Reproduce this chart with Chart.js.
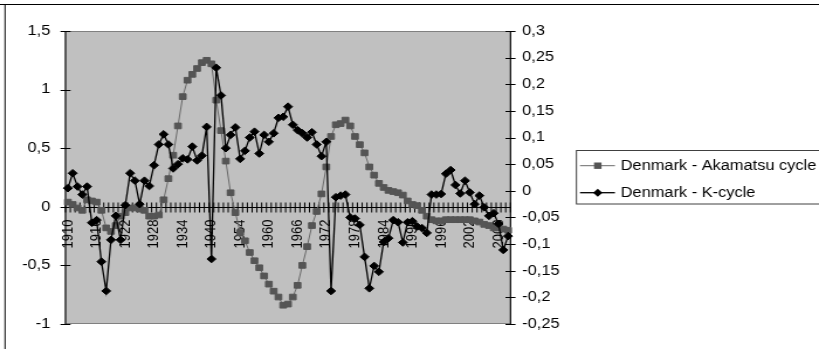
<!DOCTYPE html>
<html>
<head>
<meta charset="utf-8">
<script src="https://cdn.jsdelivr.net/npm/chart.js@4.4.0/dist/chart.umd.min.js"></script>
<style>
html, body { margin: 0; padding: 0; background: #fff; overflow: hidden; }
#chart { display: block; }
</style>
</head>
<body>
<canvas id="chart" width="700" height="349" style="width:819px;height:349px"></canvas>
<script>
// years on the category axis (no data 1941-1948)
const years = [
    1910, 1911, 1912, 1913, 1914, 1915, 1916, 1917, 1918, 1919,
    1920, 1921, 1922, 1923, 1924, 1925, 1926, 1927, 1928, 1929,
    1930, 1931, 1932, 1933, 1934, 1935, 1936, 1937, 1938, 1939,
    1940, 1949, 1950, 1951, 1952, 1953, 1954, 1955, 1956, 1957,
    1958, 1959, 1960, 1961, 1962, 1963, 1964, 1965, 1966, 1967,
    1968, 1969, 1970, 1971, 1972, 1973, 1974, 1975, 1976, 1977,
    1978, 1979, 1980, 1981, 1982, 1983, 1984, 1985, 1986, 1987,
    1988, 1989, 1990, 1991, 1992, 1993, 1994, 1995, 1996, 1997,
    1998, 1999, 2000, 2001, 2002, 2003, 2004, 2005, 2006, 2007,
    2008, 2009, 2010,
];

// left axis
const akamatsu = [
    0.04, 0.02, -0.01, -0.03, 0.06, 0.05, 0.04, -0.03, -0.18, -0.21,
    -0.16, -0.08, -0.05, -0.01, -0.01, -0.02, -0.03, -0.08, -0.08, -0.07,
    0.06, 0.24, 0.44, 0.69, 0.94, 1.08, 1.13, 1.18, 1.23, 1.25,
    1.22, 0.91, 0.65, 0.39, 0.12, -0.05, -0.22, -0.29, -0.39, -0.46,
    -0.52, -0.59, -0.66, -0.72, -0.77, -0.84, -0.83, -0.77, -0.67, -0.50,
    -0.34, -0.16, -0.04, 0.11, 0.34, 0.60, 0.70, 0.71, 0.74, 0.69,
    0.60, 0.53, 0.46, 0.34, 0.27, 0.20, 0.165, 0.14, 0.13, 0.12,
    0.10, 0.05, 0.02, 0.01, -0.03, -0.08, -0.11, -0.12, -0.12, -0.11,
    -0.11, -0.11, -0.11, -0.11, -0.11, -0.12, -0.13, -0.15, -0.16, -0.18,
    -0.18, -0.19, -0.20,
];

// right axis
const kCycle = [
    0.005, 0.033, 0.008, -0.007, 0.008, -0.06, -0.055, -0.133, -0.188, -0.092,
    -0.047, -0.092, -0.027, 0.033, 0.019, -0.025, 0.019, 0.009, 0.048, 0.087,
    0.106, 0.087, 0.042, 0.05, 0.061, 0.059, 0.083, 0.057, 0.066, 0.12,
    -0.128, 0.231, 0.179, 0.08, 0.105, 0.119, 0.06, 0.075, 0.1, 0.111,
    0.07, 0.105, 0.092, 0.108, 0.137, 0.139, 0.158, 0.124, 0.114, 0.108,
    0.1, 0.11, 0.087, 0.065, 0.092, -0.188, -0.012, -0.009, -0.007, -0.05,
    -0.052, -0.064, -0.124, -0.183, -0.141, -0.152, -0.096, -0.089, -0.055, -0.059,
    -0.097, -0.059, -0.057, -0.067, -0.07, -0.079, -0.007, -0.007, -0.006, 0.032,
    0.039, 0.011, -0.005, 0.019, -0.003, -0.025, -0.009, -0.031, -0.047, -0.042,
    -0.062, -0.111, -0.085,
];

const seriesNames = ['Denmark - Akamatsu cycle', 'Denmark - K-cycle'];
const FONT = '"Liberation Sans", Arial, sans-serif';
const AKA_LINE = '#6a6a6a';
const AKA_MARK = '#555555';

const comma = v => String(Math.round(v * 100) / 100).replace('.', ',');

// excel-ish plot area, axes crossing ticks, year labels, legend, frame
const excelLook = {
    id: 'excelLook',
    beforeDraw(chart) {
        const { ctx, chartArea: a } = chart;
        ctx.save();
        ctx.fillStyle = '#c0c0c0';
        ctx.fillRect(a.left, a.top, a.right - a.left, a.bottom - a.top);
        ctx.strokeStyle = '#808080';
        ctx.lineWidth = 1;
        ctx.strokeRect(a.left, a.top + 0.5, a.right - a.left, a.bottom - a.top - 1);
        ctx.restore();
    },
    beforeDatasetsDraw(chart) {
        const { ctx, chartArea: a, scales: { x, y, y1 } } = chart;
        ctx.save();
        ctx.strokeStyle = '#000';
        ctx.lineWidth = 1;
        ctx.beginPath();
        ctx.moveTo(a.left, a.top);
        ctx.lineTo(a.left, a.bottom);
        ctx.moveTo(a.right, a.top);
        ctx.lineTo(a.right, a.bottom);
        y.ticks.forEach(t => {
            const py = Math.round(y.getPixelForValue(t.value)) + 0.5;
            ctx.moveTo(a.left - 4.3, py);
            ctx.lineTo(a.left + 4.3, py);
        });
        y1.ticks.forEach(t => {
            const py = Math.round(y1.getPixelForValue(t.value)) + 0.5;
            ctx.moveTo(a.right - 4.3, py);
            ctx.lineTo(a.right + 4.3, py);
        });
        const y0 = Math.round(y.getPixelForValue(0)) + 0.5;
        ctx.moveTo(a.left, y0);
        ctx.lineTo(a.right, y0);
        const half = (x.getPixelForValue(1) - x.getPixelForValue(0)) / 2;
        for (let i = 0; i <= years.length; i++) {
            const px = i < years.length ? x.getPixelForValue(i) - half : x.getPixelForValue(i - 1) + half;
            ctx.moveTo(px, y0 - 5);
            ctx.lineTo(px, y0 + 5);
        }
        ctx.stroke();

        ctx.fillStyle = '#000';
        ctx.font = `13px ${FONT}`;
        ctx.textAlign = 'right';
        ctx.textBaseline = 'middle';
        years.forEach((yr, i) => {
            if (i % 6) return;
            ctx.save();
            ctx.translate(x.getPixelForValue(i), y0 + 12);
            ctx.rotate(-Math.PI / 2);
            ctx.fillText(String(yr), 0, 0);
            ctx.restore();
        });
        ctx.restore();
    },
    afterDraw(chart) {
        const { ctx, width, height } = chart;
        ctx.save();
        // chart frame
        ctx.strokeStyle = '#000';
        ctx.lineWidth = 1;
        ctx.beginPath();
        ctx.moveTo(0, 4.5);
        ctx.lineTo(width, 4.5);
        ctx.moveTo(4.3, 4.5);
        ctx.lineTo(4.3, height);
        ctx.stroke();

        // legend
        ctx.strokeStyle = '#404040';
        ctx.strokeRect(492.7, 150.5, 300, 53.5);
        const rows = [165.7, 192.7];
        ctx.lineWidth = 1;
        ctx.strokeStyle = AKA_LINE;
        ctx.beginPath();
        ctx.moveTo(495.7, rows[0]);
        ctx.lineTo(525.6, rows[0]);
        ctx.stroke();
        ctx.fillStyle = AKA_MARK;
        ctx.fillRect(510.9 - 3.2, rows[0] - 3.2, 6.4, 6.4);

        ctx.strokeStyle = '#000';
        ctx.lineWidth = 1.3;
        ctx.beginPath();
        ctx.moveTo(495.7, rows[1]);
        ctx.lineTo(525.6, rows[1]);
        ctx.stroke();
        ctx.fillStyle = '#000';
        ctx.beginPath();
        ctx.moveTo(510.9 - 4, rows[1]);
        ctx.lineTo(510.9, rows[1] - 4);
        ctx.lineTo(510.9 + 4, rows[1]);
        ctx.lineTo(510.9, rows[1] + 4);
        ctx.closePath();
        ctx.fill();

        ctx.fillStyle = '#000';
        ctx.font = `14px ${FONT}`;
        ctx.textAlign = 'left';
        ctx.textBaseline = 'middle';
        seriesNames.forEach((n, i) => ctx.fillText(n, 530.5, rows[i] + 0.5));
        ctx.restore();
    },
};

const canvas = document.getElementById('chart');
new Chart(canvas.getContext('2d'), {
    type: 'line',
    data: {
        labels: years,
        datasets: [
            {
                label: seriesNames[0],
                data: akamatsu,
                yAxisID: 'y',
                order: 1,
                borderColor: AKA_LINE,
                borderWidth: 1,
                pointStyle: 'rect',
                pointRadius: 4,
                pointBorderWidth: 1,
                pointBackgroundColor: AKA_MARK,
                pointBorderColor: AKA_MARK,
                tension: 0,
            },
            {
                label: seriesNames[1],
                data: kCycle,
                yAxisID: 'y1',
                order: 0,
                borderColor: '#000',
                borderWidth: 1.3,
                pointStyle: 'rectRot',
                pointRadius: 3.8,
                pointBorderWidth: 1,
                pointBackgroundColor: '#000',
                pointBorderColor: '#000',
                tension: 0,
            },
        ],
    },
    plugins: [excelLook],
    options: {
        responsive: false,
        animation: false,
        devicePixelRatio: 1,
        layout: { padding: { left: 0, right: 0, top: 31, bottom: 25 } },
        plugins: { legend: { display: false }, tooltip: { enabled: false } },
        scales: {
            x: { type: 'category', offset: true, display: false },
            y: {
                position: 'left',
                min: -1,
                max: 1.5,
                ticks: { stepSize: 0.5, color: '#000', padding: 13, font: { family: FONT, size: 14 }, callback: v => comma(v) },
                grid: { display: false, drawTicks: false },
                border: { display: false },
                afterFit: s => { s.width = 56; },
            },
            y1: {
                position: 'right',
                min: -0.25,
                max: 0.3,
                ticks: { stepSize: 0.05, color: '#000', padding: 10, font: { family: FONT, size: 14 }, callback: v => comma(v) },
                grid: { display: false, drawTicks: false },
                border: { display: false },
                afterFit: s => { s.width = 263.7; },
            },
        },
    },
});
</script>
</body>
</html>
